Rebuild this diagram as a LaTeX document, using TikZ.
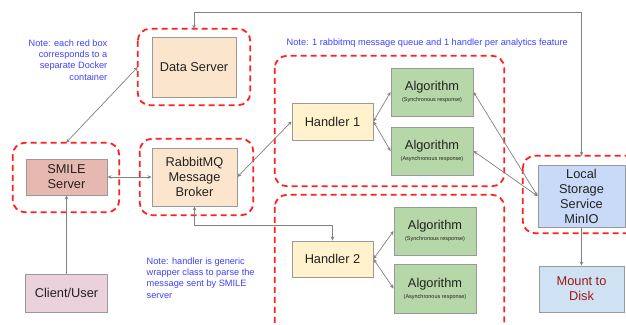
\documentclass[tikz,border=0pt]{standalone}
\usepackage{fontspec}
\setmainfont{Liberation Sans}
\usetikzlibrary{arrows.meta}
\definecolor{boxgray}{HTML}{999999}
\definecolor{peach}{HTML}{FCE5CD}
\definecolor{berry}{HTML}{E6B8AF}
\definecolor{pinkish}{HTML}{EAD1DC}
\definecolor{lightyellow}{HTML}{FFF2CC}
\definecolor{lightgreen}{HTML}{B6D7A8}
\definecolor{lightblue}{HTML}{C9DAF8}
\definecolor{paleblue}{HTML}{CFE2F3}
\definecolor{notetext}{HTML}{4040FF}
\definecolor{darkred}{HTML}{A01818}
\definecolor{dashred}{HTML}{FF2020}
\definecolor{txt}{HTML}{222222}
\tikzset{
  box/.style={draw=boxgray, line width=0.9pt, text=txt, align=center,
    inner sep=0pt, font=\fontsize{12.8}{15}\selectfont},
  container/.style={draw=dashred, line width=1.8pt, dash pattern=on 6pt off 4pt,
    rounded corners=12pt},
  conn/.style={draw=boxgray!85!black, line width=0.7pt},
  both/.style={conn, {Stealth[length=4pt,width=3.6pt]}-{Stealth[length=4pt,width=3.6pt]}},
  one/.style={conn, -{Stealth[length=4pt,width=3.6pt]}},
  note/.style={text=notetext, font=\fontsize{9.2}{11.3}\selectfont, inner sep=0pt},
}
\newcommand{\algsub}[1]{Algorithm\\[-4pt]{\fontsize{5.5}{6}\selectfont (#1)}}
\begin{document}
\begin{tikzpicture}[x=1pt,y=-1pt]
\useasboundingbox[fill=white] (0,0) rectangle (626,324);
% containers
\node[inner sep=0pt, minimum width=112pt, minimum height=76pt] (dsc) at (194,67) {};
\draw[container] (dsc.north west) rectangle (dsc.south east);
\node[inner sep=0pt, minimum width=106pt, minimum height=69pt] (smilec) at (66,177.5) {};
\draw[container] (smilec.north west) rectangle (smilec.south east);
\node[inner sep=0pt, minimum width=113pt, minimum height=76pt] (rmqc) at (196.5,177) {};
\draw[container] (rmqc.north west) rectangle (rmqc.south east);
\node[inner sep=0pt, minimum width=229pt, minimum height=130pt] (h1c) at (389.5,121) {};
\draw[container] (h1c.north west) rectangle (h1c.south east);
\node[inner sep=0pt, minimum width=229pt, minimum height=150pt] (h2c) at (389.5,270) {};
\draw[container] (h2c.north west) rectangle (h2c.south east);
\node[inner sep=0pt, minimum width=120pt, minimum height=77pt] (lc) at (583,194.5) {};
\draw[container] (lc.north west) rectangle (lc.south east);
% boxes
\node[box, fill=peach, minimum width=84pt, minimum height=60pt] (ds) at (194,67) {Data Server};
\node[box, fill=berry, minimum width=81pt, minimum height=36pt] (smile) at (66.5,177) {SMILE\\Server};
\node[box, fill=pinkish, minimum width=82pt, minimum height=38pt] (client) at (66.5,293) {Client/User};
\node[box, fill=peach, minimum width=85pt, minimum height=58pt] (rmq) at (194.5,177) {RabbitMQ\\Message\\Broker};
\node[box, fill=lightyellow, minimum width=81pt, minimum height=37pt] (h1) at (332.5,121.5) {Handler 1};
\node[box, fill=lightgreen, minimum width=82pt, minimum height=48pt] (a1s) at (432,92) {\algsub{Synchronous response}};
\node[box, fill=lightgreen, minimum width=82pt, minimum height=48pt] (a1a) at (432,151) {\algsub{Asynchronous response}};
\node[box, fill=lightyellow, minimum width=81pt, minimum height=36pt] (h2) at (332.5,259) {Handler 2};
\node[box, fill=lightgreen, minimum width=82pt, minimum height=48pt] (a2s) at (435,231) {\algsub{Synchronous response}};
\node[box, fill=lightgreen, minimum width=82pt, minimum height=49pt] (a2a) at (435,288.5) {\algsub{Asynchronous response}};
\node[box, fill=lightblue, minimum width=87pt, minimum height=62pt] (ls) at (581.5,196) {Local\\Storage\\Service\\MinIO};
\node[box, fill=paleblue, text=darkred, minimum width=85pt, minimum height=46pt] (mtd) at (581.5,289) {Mount to\\Disk};
% notes
\node[note, align=right, anchor=east] (n1) at (107.5,60) {Note: each red box\\corresponds to a\\separate Docker\\container};
\node[note, align=left, anchor=west] (n2) at (286.5,43) {Note: 1 rabbitmq message queue and 1 handler per analytics feature};
\node[note, align=left, anchor=west] (n3) at (146.5,278) {Note: handler is generic\\wrapper class to parse the\\message sent by SMILE\\server};
% connectors
\draw[both] (dsc.north) -- (dsc.north |- 0,12) -- (ls.north |- 0,12) -- (ls.north |- lc.north);
\draw[both] (smilec.north) -- (dsc.west);
\draw[both] (smile.east) -- (rmq.west);
\draw[one] (client.north) -- (smile.south);
\draw[both] (rmq.east) -- (h1.west);
\draw[both] (rmq.south) -- (rmq.south |- 0,225) -- (h2.north |- 0,225) -- (h2.north);
\draw[both] (h1.east) -- (a1s.west);
\draw[both] (h1.east) -- (a1a.west);
\draw[both] (h2.east) -- (a2s.west);
\draw[both] (h2.east) -- (a2a.west);
\draw[both] (a1s.east) -- (ls.west);
\draw[both] (a1a.east) -- (ls.west);
\draw[one] (ls.south) -- (mtd.north);
\end{tikzpicture}
\end{document}
